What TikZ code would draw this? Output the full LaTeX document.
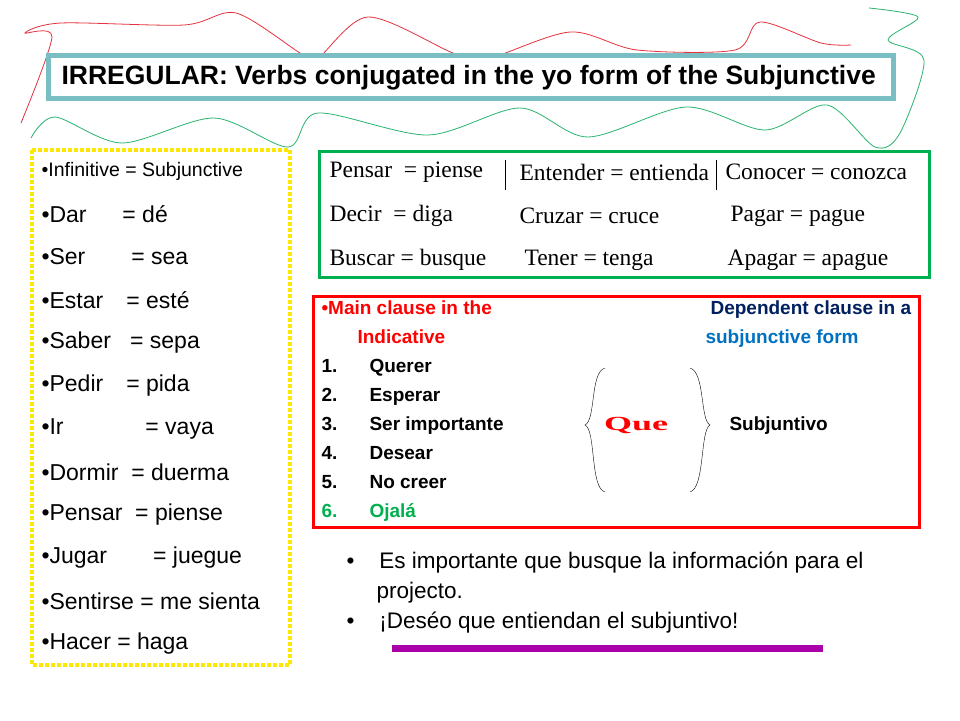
\documentclass[tikz,border=0pt]{standalone}
\usepackage{fontspec}
\setmainfont{Liberation Sans}
\newfontfamily\tnr{Liberation Serif}
\definecolor{tb}{RGB}{120,190,195}
\definecolor{gb}{RGB}{0,176,80}
\definecolor{dblue}{RGB}{0,32,96}
\definecolor{mblue}{RGB}{0,112,192}
\definecolor{purp}{RGB}{170,0,170}
\definecolor{sqred}{RGB}{230,50,60}
\definecolor{sqgreen}{RGB}{40,180,110}
\tikzset{lft/.style={anchor=west,font=\fontsize{23}{26}\selectfont},
 gr/.style={anchor=west,font=\tnr\fontsize{23.5}{26}\selectfont},
 rb/.style={anchor=base west,font=\bfseries\fontsize{19}{22}\selectfont}}
\begin{document}
\begin{tikzpicture}[x=1pt,y=-1pt]
\useasboundingbox[fill=white] (0,0) rectangle (960,720);
\draw[sqred,thick] plot[smooth] coordinates {(21,123)(52,37)(25,33)(61,23)(184,25)(236,13)(300,53)(316,60)(368,17)(453,53)(484,60)(570,32)(637,50)(735,50)(760,22)(821,43)(851,45)};
\draw[sqgreen,thick] plot[smooth] coordinates {(31,138)(55,117)(122,143)(214,118)(288,147)(318,113)(428,135)(520,108)(588,137)(686,107)(765,130)(827,105)(875,147)(900,133)(924,60)(888,40)(918,17)(869,8)};
\node[draw=tb,line width=5pt,fill=white,minimum width=845pt,minimum height=43pt,inner sep=0pt] (title) at (471,77) {};
\node[anchor=west,font=\bfseries\fontsize{26.5}{30}\selectfont] (tt) at (58,78) {IRREGULAR: Verbs conjugated in the yo form of the Subjunctive};
\draw[yellow!90!orange,line width=4pt,dotted] (32,150) rectangle (290,665);
\node[anchor=west,font=\fontsize{19.5}{22}\selectfont] (l0) at (38,171) {•Infinitive = Subjunctive};
\foreach \t [count=\i] in {{Dar\quad\ \ = dé},{Ser\qquad = sea},{Estar\quad = esté},{Saber\ \ \ = sepa},{Pedir\quad = pida},{Ir\qquad\quad\ \ = vaya},{Dormir\ \ = duerma},{Pensar\ \ = piense},{Jugar\qquad = juegue},{Sentirse = me sienta},{Hacer = haga}}
  \node[lft] (l\i) at (38,171+\i*43) {•\t};
\draw[gb,line width=3pt] (319,151) rectangle (929,277);
\node[gr] (g1) at (326,172) {Pensar\ \ = piense};
\node[gr] (g2) at (516,172) {Entender = entienda};
\node[gr] (g3) at (722,172) {Conocer = conozca};
\node[gr] (g4) at (326,216) {Decir\ \ = diga};
\node[gr] (g5) at (516,216) {Cruzar = cruce};
\node[gr] (g6) at (727,216) {Pagar = pague};
\node[gr] (g7) at (326,260) {Buscar = busque};
\node[gr] (g8) at (521,260) {Tener = tenga};
\node[gr] (g9) at (724,260) {Apagar = apague};
\draw (505,160) -- (505,190);
\draw (716,160) -- (716,190);
\draw[red,line width=3pt] (313,296) rectangle (919,527);
\node[rb,red] (m1) at (318,314) {•Main clause in the};
\node[rb,red] (m2) at (354,343) {Indicative};
\node[rb,dblue] (d1) at (707,314) {Dependent clause in a};
\node[rb,mblue] (d2) at (702,343) {subjunctive form};
\foreach \t [count=\i] in {Querer,Esperar,Ser importante,Desear,No creer}{
  \node[rb] (n\i) at (318,343+\i*29) {\i.};
  \node[rb] (w\i) at (366,343+\i*29) {\t};}
\node[rb,gb] (n6) at (318,517) {6.};
\node[rb,gb] (w6) at (366,517) {Ojalá};
\draw[thin] (605,368) .. controls (590,372) and (596,420) .. (585,425) .. controls (596,430) and (590,488) .. (605,492);
\draw[thin] (690,368) .. controls (705,372) and (700,420) .. (710,425) .. controls (700,430) and (705,488) .. (690,492);
\node[red,font=\tnr\bfseries\fontsize{20}{22}\selectfont,xscale=1.8] (que) at (636,425) {Que};
\node[rb] (sub) at (726,430) {Subjuntivo};
\node[anchor=west,font=\fontsize{22.5}{26}\selectfont] (b1) at (343,563) {•\ \ \ \ Es importante que busque la información para el};
\node[anchor=west,font=\fontsize{22.5}{26}\selectfont] (b1b) at (373,593) {projecto.};
\node[anchor=west,font=\fontsize{22.5}{26}\selectfont] (b2) at (343,623) {•\ \ \ \ ¡Deséo que entiendan el subjuntivo!};
\draw[purp,line width=7pt] (392,648) -- (823,648);
\end{tikzpicture}
\end{document}
